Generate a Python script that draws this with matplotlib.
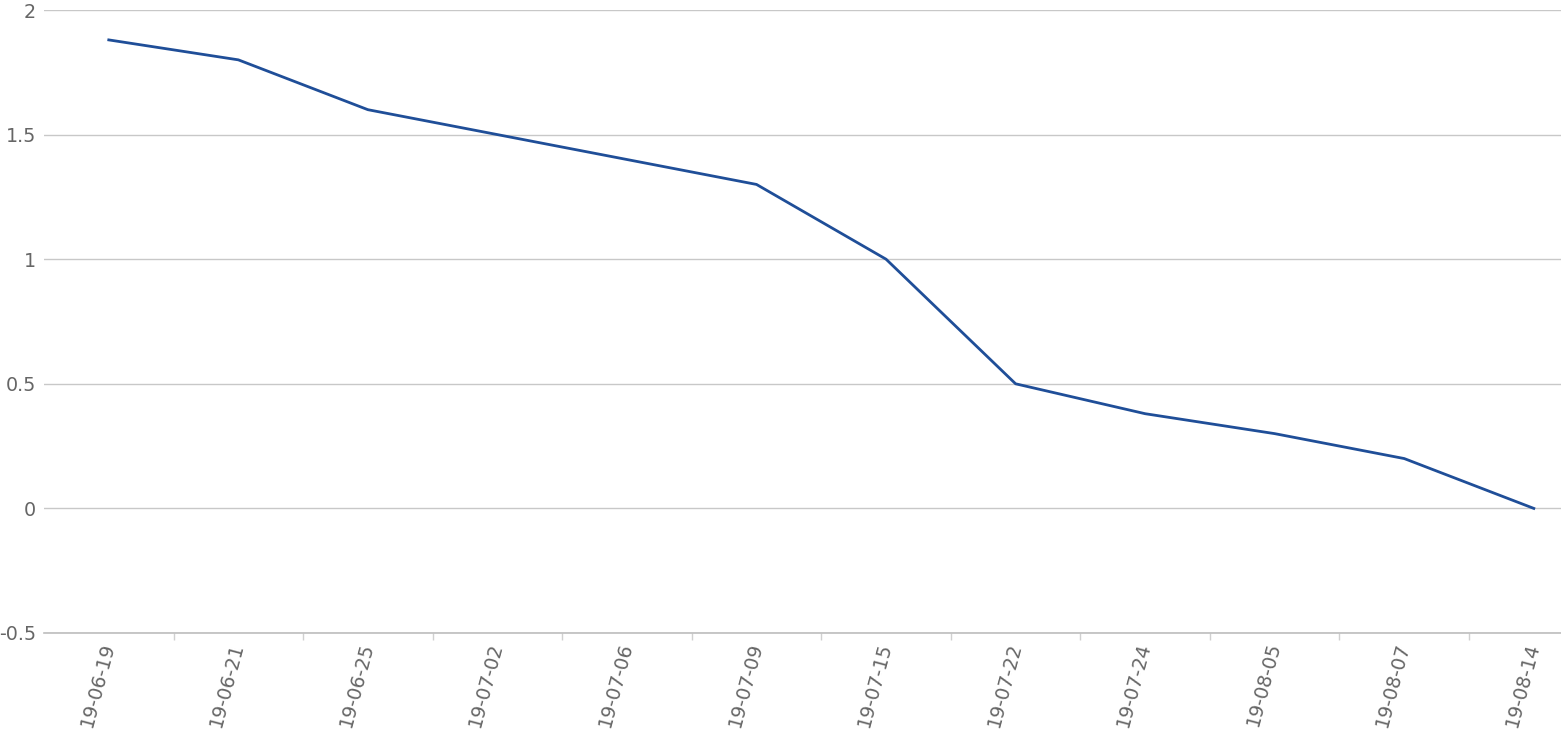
import numpy as np
import matplotlib.pyplot as plt
from matplotlib.ticker import FixedLocator

plt.rcParams["font.family"] = ["DejaVu Sans"]

# data
dates = ["19-06-19", "19-06-21", "19-06-25", "19-07-02", "19-07-06", "19-07-09",
         "19-07-15", "19-07-22", "19-07-24", "19-08-05", "19-08-07", "19-08-14"]
values = [1.88, 1.80, 1.60, 1.50, 1.40, 1.30, 1.00, 0.50, 0.38, 0.30, 0.20, 0.00]
y_ticks = [-0.5, 0, 0.5, 1, 1.5, 2]
y_labels = ["-0.5", "0", "0.5", "1", "1.5", "2"]

fig = plt.figure(figsize=(15.61, 7.35), dpi=100)
ax = fig.add_axes([44 / 1561, 1 - 633 / 735, 1 - 44 / 1561, 623 / 735])

x = np.arange(len(dates))
ax.plot(x, values, color="#1f4e98", linewidth=2.0)

ax.set_xlim(-0.5, 11.21)
ax.set_ylim(-0.5, 2)

# grid
ax.set_yticks(y_ticks)
ax.set_yticklabels(y_labels)
ax.grid(axis="y", color="#c8c8c8", linewidth=1.0)
ax.set_axisbelow(True)

# x labels at category centres, tick marks at boundaries
ax.set_xticks(x)
ax.set_xticklabels(dates, rotation=75, ha="right", va="center", rotation_mode="anchor")
ax.xaxis.set_minor_locator(FixedLocator(np.arange(0.5, len(dates) - 0.5, 1)))
ax.tick_params(axis="x", which="major", length=0, pad=7, labelsize=13.8, labelcolor="#666666")
ax.tick_params(axis="x", which="minor", length=5, width=1, color="#d0d0d0")
ax.tick_params(axis="y", length=0, pad=6, labelsize=13.8, labelcolor="#666666")

for s in ["left", "right", "top"]:
    ax.spines[s].set_visible(False)
ax.spines["bottom"].set_color("#bdbdbd")
ax.spines["bottom"].set_linewidth(1.2)

fig.savefig("out.png", dpi=100)
